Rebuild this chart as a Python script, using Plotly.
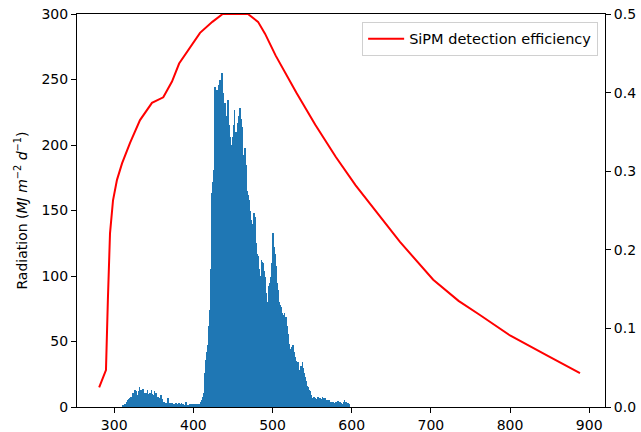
import plotly.graph_objects as go

# Histogram: radiation per 1-nm wavelength bin, 310..598 nm
hist_start_nm = 310
radiation = [
    # 310-319
    0, 1.5, 1, 2, 2.5, 2, 4, 5, 3, 6,
    # 320-329
    7, 8, 6, 10.7, 9, 11, 13, 10, 12, 8,
    # 330-339
    9.5, 12, 15.5, 11, 13, 10, 14, 12, 9.5, 11,
    # 340-349
    10.7, 8, 13, 10, 9.5, 11, 8, 13, 10, 8,
    # 350-359
    9, 12, 9, 10.7, 7, 8, 6, 7, 5, 9.5,
    # 360-369
    6, 5, 4, 4, 3, 3, 2.5, 3, 7, 3,
    # 370-379
    3, 2, 2, 3, 2, 2.5, 2, 2, 3, 2,
    # 380-389
    2.5, 2, 3, 2, 2.5, 3, 2, 2, 1.5, 1,
    # 390-399
    2, 4, 1, 1, 0, 1.5, 2, 2, 1, 2,
    # 400-409
    2, 2, 1.5, 2, 2, 2.5, 2, 2, 2, 3,
    # 410-419
    4, 5, 8, 11, 18, 26, 36, 42, 47, 51,
    # 420-429
    62, 74, 105, 130, 163, 172, 181, 244, 221, 235,
    # 430-439
    242, 238, 246, 240, 250, 244, 255, 240, 234, 228,
    # 440-449
    232, 222, 211, 225, 234, 215, 206, 195, 191, 200,
    # 450-459
    206, 215, 227, 210, 204, 210, 217, 222, 214, 228,
    # 460-469
    220, 214, 200, 186, 192, 198, 185, 173, 165, 162,
    # 470-479
    158, 156, 150, 143, 140, 130, 138, 148, 145, 125,
    # 480-489
    117, 116, 115, 105, 89, 100, 112, 111, 110, 104,
    # 490-499
    99, 95, 87, 80, 69, 82, 92, 95, 99, 110,
    # 500-509
    125, 133, 122, 117, 108, 102, 95, 89, 80, 74,
    # 510-519
    78, 76, 72, 69, 70, 72, 68, 69, 62, 58,
    # 520-529
    56, 48, 41, 44, 46, 45, 47, 42, 38, 36,
    # 530-539
    35, 33, 34, 28, 23, 26, 31, 29, 34, 30,
    # 540-549
    26, 23, 20, 18, 16, 15, 13, 11, 12, 9,
    # 550-559
    7, 5, 8, 6, 7, 4, 6, 8, 7, 6,
    # 560-569
    7, 5, 6, 8, 7, 6, 7, 5, 5, 4,
    # 570-579
    5, 5, 5, 4, 3, 4, 4, 4, 3, 1,
    # 580-589
    4, 4, 3, 4.5, 4, 4, 3, 3, 2, 2,
    # 590-598
    4, 5, 4, 4, 3, 2.5, 3, 2, 0,
]
wavelength_nm = [hist_start_nm + i for i in range(len(radiation))]

# SiPM detection efficiency curve
pde_wavelength = [281, 289.6, 292, 294.7, 298.5, 303.5, 309.9, 320, 332.6, 347.7,
                  362, 373, 382, 395.8, 408.4, 424, 437, 446, 456, 469,
                  481.7, 490.5, 504, 516, 530, 554, 580, 605, 630, 661,
                  703, 735, 762, 800, 846, 888.4]
pde_value = [0.025, 0.047, 0.136, 0.221, 0.263, 0.289, 0.31, 0.336, 0.365, 0.387,
             0.394, 0.414, 0.437, 0.458, 0.476, 0.49, 0.5, 0.5, 0.5, 0.5,
             0.49, 0.475, 0.447, 0.425, 0.40, 0.359, 0.318, 0.282, 0.25, 0.21,
             0.162, 0.135, 0.117, 0.091, 0.066, 0.043]

x_ticks = [300, 400, 500, 600, 700, 800, 900]

FONT = "DejaVu Sans"
axis_common = dict(ticks="outside", ticklen=5, tickwidth=1, tickcolor="black",
                   showline=True, linecolor="black", linewidth=1,
                   showgrid=False, zeroline=False, automargin=False,
                   tickfont=dict(family=FONT, size=14, color="black"))

fig = go.Figure()
fig.add_trace(go.Bar(
    x=wavelength_nm, y=radiation, width=1,
    marker=dict(color="#1f77b4", line=dict(width=0)),
    showlegend=False,
))
fig.add_trace(go.Scatter(
    x=pde_wavelength, y=pde_value, yaxis="y2", mode="lines",
    line=dict(color="red", width=2),
    name="SiPM detection efficiency",
))

fig.update_layout(
    template="none",
    width=641, height=432,
    margin=dict(l=77, r=36, t=14, b=25, pad=0),
    paper_bgcolor="white", plot_bgcolor="white",
    font=dict(family=FONT, size=14, color="black"), bargap=0,
    xaxis=dict(range=[253, 920], tickvals=x_ticks, mirror=True, **axis_common),
    yaxis=dict(range=[0, 300], dtick=50,
               title=dict(text="Radiation (<i>MJ m</i><sup>−2</sup> <i>d</i><sup>−1</sup>)",
                          standoff=10, font=dict(family=FONT, size=14, color="black")),
               **axis_common),
    yaxis2=dict(range=[0, 0.5], dtick=0.1, tickformat=".1f", overlaying="y",
                side="right", **axis_common),
    legend=dict(x=0.987, y=0.98, xanchor="right", yanchor="top",
                bgcolor="rgba(255,255,255,0.8)", bordercolor="#d0d0d0",
                borderwidth=1, itemwidth=36,
                font=dict(family=FONT, size=14.5, color="black")),
)

fig.write_html("out.html")
